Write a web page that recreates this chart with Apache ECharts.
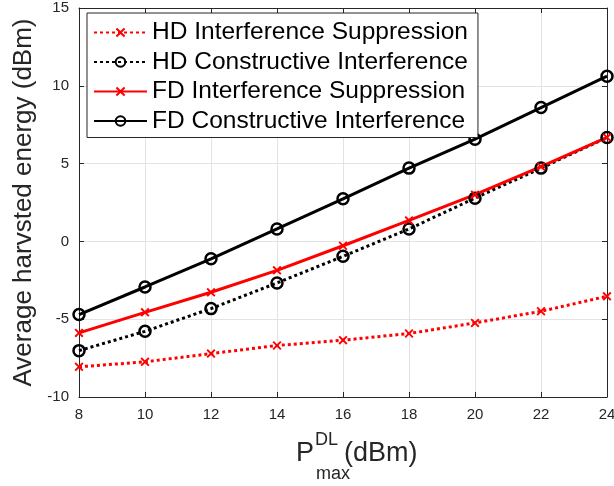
<!DOCTYPE html>
<html>
<head>
<meta charset="utf-8">
<script src="https://cdn.jsdelivr.net/npm/echarts@6/dist/echarts.min.js"></script>
<style>
  html, body { margin: 0; padding: 0; background: #fff; }
  #chart { width: 614px; height: 486px; }
</style>
</head>
<body>
<div id="chart"></div>
<script>
// Downlink transmit power P_max^DL (dBm)
const powerDbm = [8, 10, 12, 14, 16, 18, 20, 22, 24];

// Average harvested energy (dBm) per scheme
const hdSuppression   = [-8.06, -7.74, -7.21, -6.69, -6.35, -5.92, -5.24, -4.49, -3.53];
const hdConstructive  = [-7.02, -5.78, -4.32, -2.67, -0.96, 0.80, 2.78, 4.71, 6.68];
const fdSuppression   = [-5.88, -4.56, -3.27, -1.86, -0.28, 1.35, 3.00, 4.81, 6.68];
const fdConstructive  = [-4.70, -2.93, -1.12, 0.80, 2.74, 4.71, 6.57, 8.60, 10.62];

const seriesNames = [
  'HD Interference Suppression',
  'HD Constructive Interference',
  'FD Interference Suppression',
  'FD Constructive Interference'
];

const xTicks = { min: 8, max: 24, step: 2 };
const yTicks = { min: -10, max: 15, step: 5 };

const FONT = '"Liberation Sans", Arial, Helvetica, sans-serif';
const AXIS_COLOR = '#262626';
const CROSS = 'path://M0,1.5L1.5,0L5,3.5L8.5,0L10,1.5L6.5,5L10,8.5L8.5,10L5,6.5L1.5,10L0,8.5L3.5,5Z';

function pairs(values) {
  return powerDbm.map((x, i) => [x, values[i]]);
}

function lineSeries(name, values, color, dotted, marker) {
  const isCircle = marker === 'circle';
  return {
    name: name,
    type: 'line',
    data: pairs(values),
    symbol: isCircle ? 'circle' : CROSS,
    symbolSize: isCircle ? 11 : 9,
    showSymbol: true,
    lineStyle: {
      color: color,
      width: 3,
      type: dotted ? [3, 3] : 'solid',
      cap: 'butt'
    },
    itemStyle: isCircle
      ? { color: 'rgba(255,255,255,0)', borderColor: color, borderWidth: 2.5 }
      : { color: color, borderWidth: 0 },
    emphasis: { disabled: true },
    animation: false
  };
}

function valueAxis(range, position, primary) {
  return {
    type: 'value',
    position: position,
    min: range.min,
    max: range.max,
    interval: range.step,
    axisLine: { show: true, onZero: false, lineStyle: { color: AXIS_COLOR, width: 1 } },
    axisTick: { show: true, inside: true, length: 5, lineStyle: { color: AXIS_COLOR } },
    axisLabel: {
      show: primary,
      color: AXIS_COLOR,
      fontFamily: FONT,
      fontSize: 15,
      margin: 10
    },
    splitLine: { show: primary, lineStyle: { color: '#e3e3e3', width: 1 } }
  };
}

const chart = echarts.init(document.getElementById('chart'), null, { renderer: 'canvas' });

const xPrimary = valueAxis(xTicks, 'bottom', true);
const yPrimary = valueAxis(yTicks, 'left', true);
yPrimary.name = 'Average harvsted energy (dBm)';
yPrimary.nameLocation = 'middle';
yPrimary.nameRotate = 90;
yPrimary.nameGap = 41;
yPrimary.nameTextStyle = { fontFamily: FONT, fontSize: 26, color: AXIS_COLOR };

chart.setOption({
  backgroundColor: '#ffffff',
  animation: false,
  grid: { left: 79, right: 7, top: 8, bottom: 89, containLabel: false, outerBoundsMode: 'none' },
  xAxis: [xPrimary, valueAxis(xTicks, 'top', false)],
  yAxis: [yPrimary, valueAxis(yTicks, 'right', false)],
  legend: {
    orient: 'vertical',
    left: 87,
    top: 13,
    padding: [7, 10, 4, 6],
    itemWidth: 53,
    itemHeight: 12,
    itemGap: 4.5,
    backgroundColor: '#ffffff',
    borderColor: '#262626',
    borderWidth: 1,
    borderRadius: 0,
    textStyle: { fontFamily: FONT, fontSize: 24.5, color: '#000', lineHeight: 24 },
    data: seriesNames
  },
  // x-axis label with super/subscript: P^{DL}_{max} (dBm)
  graphic: [
    { type: 'text', left: 296, top: 440, style: { text: 'P', font: '27px ' + FONT, fill: AXIS_COLOR } },
    { type: 'text', left: 315, top: 431, style: { text: 'DL', font: '18px ' + FONT, fill: AXIS_COLOR } },
    { type: 'text', left: 316, top: 465, style: { text: 'max', font: '18px ' + FONT, fill: AXIS_COLOR } },
    { type: 'text', left: 344, top: 440, style: { text: '(dBm)', font: '27px ' + FONT, fill: AXIS_COLOR } }
  ],
  series: [
    lineSeries(seriesNames[0], hdSuppression, '#ff0000', true, 'cross'),
    lineSeries(seriesNames[1], hdConstructive, '#000000', true, 'circle'),
    lineSeries(seriesNames[2], fdSuppression, '#ff0000', false, 'cross'),
    lineSeries(seriesNames[3], fdConstructive, '#000000', false, 'circle')
  ]
});
</script>
</body>
</html>
